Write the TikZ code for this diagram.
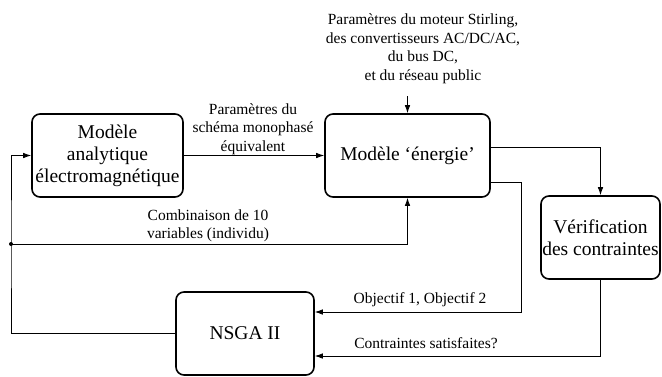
\documentclass[tikz,border=0pt]{standalone}
\usepackage{fontspec}
\setmainfont{Liberation Serif}
\usetikzlibrary{arrows.meta}

\tikzset{
  bloc/.style={draw, line width=1.6pt, rounded corners=8pt, align=center,
    inner sep=0pt, minimum height=83pt, font=\fontsize{19.5}{22}\selectfont},
  lien/.style={line width=0.8pt},
  fleche/.style={lien, -{Latex[length=8pt,width=5.5pt]}},
  etiq/.style={align=center, inner sep=0pt, font=\fontsize{15.5}{18.5}\selectfont}
}

\begin{document}
\begin{tikzpicture}[x=1pt, y=-1pt]
    \useasboundingbox (0,0) rectangle (662,376);

    % blocs
    \node[bloc, minimum width=151pt] (analytique) at (107.5,155.5) {Modèle\\analytique\\électromagnétique};
    \node[bloc, minimum width=165pt] (energie) at (407.5,155.5) {Modèle `énergie'};
    \node[bloc, minimum width=119pt] (verif) at (600.5,237.5) {Vérification\\des contraintes};
    \node[bloc, minimum width=138pt] (nsga) at (245,333.5) {NSGA II};

    % textes
    \node[etiq] (params) at (423,49) {Paramètres du moteur Stirling,\\des convertisseurs AC/DC/AC,\\du bus DC,\\et du réseau public};
    \node[etiq] (schema) at (253,129) {Paramètres du\\schéma monophasé\\équivalent};
    \node[etiq] (combi) at (208,226) {Combinaison de 10\\variables (individu)};
    \node[etiq] (objectifs) at (420,300) {Objectif 1, Objectif 2};
    \node[etiq] (contraintes) at (426,343) {Contraintes satisfaites?};

    \coordinate (split) at (11,244);

    % liaisons
    \draw[fleche] (analytique) -- (energie);
    \draw[fleche] (energie.north |- 0,96) -- (energie.north);
    \draw[fleche] ([yshift=8.5pt]energie.east) -| (verif.north);
    \draw[fleche] ([yshift=-26.5pt]energie.east) -- ++(31,0) |- ([yshift=21.5pt]nsga.east);
    \draw[fleche] (verif.south) |- ([yshift=-22.5pt]nsga.east);
    \draw[fleche] (nsga.west) -| (split) |- (analytique.west);
    \draw[fleche] (split) -| (energie.south);
    \fill (split) circle (2pt);
\end{tikzpicture}
\end{document}
